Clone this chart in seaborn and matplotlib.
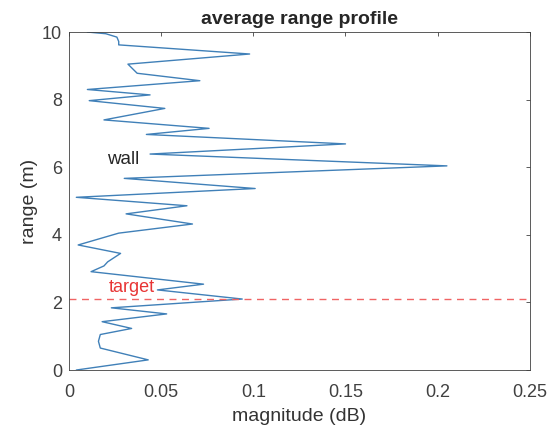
import matplotlib
matplotlib.use("Agg")
import matplotlib.pyplot as plt
import seaborn as sns
import pandas as pd

# Averaged range profile: magnitude at each range bin
range_m = [0.00, 0.30, 0.65, 0.85, 1.05, 1.23, 1.43, 1.66, 1.84, 2.10,
           2.37, 2.54, 2.91, 3.08, 3.20, 3.45, 3.70, 4.05, 4.32, 4.62,
           4.86, 5.11, 5.37, 5.67, 6.04, 6.39, 6.69, 6.97, 7.15, 7.40,
           7.74, 7.97, 8.14, 8.30, 8.56, 8.78, 9.05, 9.35, 9.62, 9.72,
           9.85, 9.95, 10.00]
magnitude = [0.004, 0.043, 0.017, 0.016, 0.017, 0.034, 0.018, 0.053, 0.023, 0.094,
             0.048, 0.073, 0.012, 0.019, 0.021, 0.028, 0.005, 0.027, 0.067, 0.031,
             0.064, 0.004, 0.101, 0.030, 0.205, 0.044, 0.150, 0.042, 0.076, 0.019,
             0.052, 0.011, 0.044, 0.010, 0.071, 0.037, 0.032, 0.098, 0.027, 0.027,
             0.026, 0.020, 0.010]

target_range = 2.1
x_ticks = [0, 0.05, 0.1, 0.15, 0.2, 0.25]
x_tick_labels = ["0", "0.05", "0.1", "0.15", "0.2", "0.25"]
y_ticks = [0, 2, 4, 6, 8, 10]

sns.set_style("white")
plt.rcParams["font.family"] = ["Liberation Sans", "DejaVu Sans"]

df = pd.DataFrame({"magnitude": magnitude, "range": range_m})

fig = plt.figure(figsize=(5.56, 4.30), dpi=100)
ax = fig.add_axes([0.124, 0.1395, 0.829, 0.786])

sns.lineplot(data=df, x="magnitude", y="range", orient="y", estimator=None,
             color="#4080b8", linewidth=1.0, ax=ax)
ax.axhline(target_range, color="#f06464", linestyle=(0, (5, 4)), linewidth=1.0)

ax.text(0.0205, 6.24, "wall", fontsize=13.5, color="#262626", va="center", ha="left")
ax.text(0.0215, 2.45, "target", fontsize=13, color="#e83535", va="center", ha="left")

ax.set_xlim(0, 0.25)
ax.set_ylim(0, 10)
ax.set_xticks(x_ticks)
ax.set_xticklabels(x_tick_labels)
ax.set_yticks(y_ticks)
ax.tick_params(direction="in", length=3, labelsize=13, colors="#404040",
               top=True, right=True, width=0.6)
ax.tick_params(axis="x", pad=10)
ax.tick_params(axis="y", pad=5)
for s in ax.spines.values():
    s.set_color("#404040")
    s.set_linewidth(0.6)

ax.set_xlabel("magnitude (dB)", fontsize=14, color="#333333", labelpad=5)
ax.set_ylabel("range (m)", fontsize=14, color="#333333", labelpad=3)
ax.set_title("average range profile", fontsize=14, fontweight="bold", pad=6)

fig.savefig("out.png", dpi=100)
